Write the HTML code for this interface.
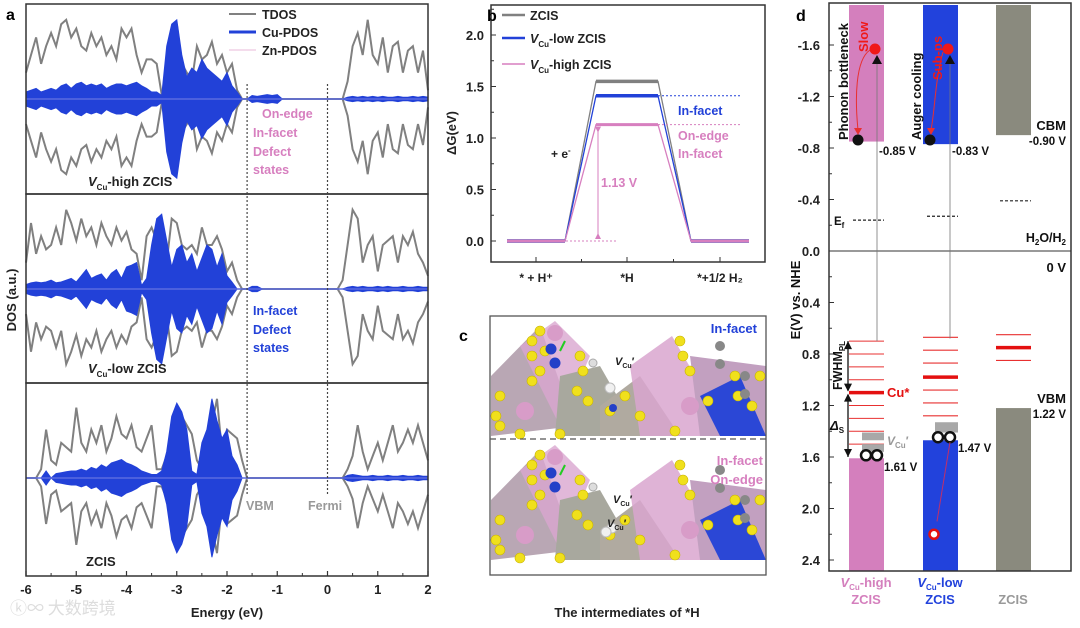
<!DOCTYPE html>
<html><head><meta charset="utf-8"><style>
html,body{margin:0;padding:0;background:#fff;}
svg{display:block;font-family:"Liberation Sans",Arial,sans-serif;font-weight:bold;}
</style></head><body>
<svg id="fig" width="1080" height="628" viewBox="0 0 1080 628" xmlns="http://www.w3.org/2000/svg">
<g id="pa"></g>
<g id="pb"></g>
<g id="pc"></g>
<g id="pd"></g>
</svg>
<script>
// ---------- Panel a data (energy grid -6..2 step 0.1) ----------
const dosEnergyStart = -6, dosEnergyStep = 0.1;
const tdosHigh = [0.3,0.5,0.7,0.4,0.6,0.75,0.6,0.85,0.9,0.7,0.8,0.6,0.55,0.75,0.6,0.7,0.5,0.6,0.45,0.8,0.7,0.8,0.5,0.3,0.45,0.45,0.4,0.05,0.2,0.6,0.85,0.4,0.3,0.2,0.6,0.45,0.5,0.65,0.4,0.5,0.3,0.4,0.1,0,0,0,0,0,0,0,0,0,0,0,0,0,0,0,0,0,0,0,0,0,0.2,0.6,0.75,0.5,0.9,0.5,0.4,0.7,0.3,0.6,0.65,0.3,0.55,0.6,0.3,0.55,0.1];
const cuHigh = [0.08,0.1,0.12,0.08,0.1,0.12,0.1,0.15,0.17,0.12,0.17,0.19,0.15,0.17,0.15,0.17,0.12,0.15,0.17,0.17,0.15,0.17,0.19,0.15,0.12,0.08,0.08,0.04,0.6,0.85,0.9,0.5,0.25,0.35,0.3,0.45,0.35,0.3,0.25,0.2,0.3,0.15,0.08,0,0,0.04,0.03,0.04,0.05,0.04,0.05,0,0,0,0,0,0,0,0,0,0,0,0,0,0.02,0.03,0.02,0.03,0.02,0.03,0.02,0.03,0.02,0.02,0.03,0.02,0.02,0.03,0.02,0.03,0.02];
const tdosLow = [0.3,0.75,0.4,0.6,0.45,0.5,0.7,0.5,0.9,0.75,0.55,0.8,0.6,0.7,0.5,0.75,0.6,0.5,0.7,0.55,0.65,0.45,0.4,0.1,0.6,0.7,0.55,0.15,0.3,0.8,0.75,0.5,0.45,0.5,0.4,0.7,0.5,0.5,0.6,0.45,0.2,0.3,0.1,0,0,0,0,0,0,0,0,0,0,0,0,0,0,0,0,0,0,0,0,0.1,0.5,0.9,0.8,0.3,0.5,0.6,0.2,0.5,0.55,0.6,0.3,0.6,0.5,0.65,0.4,0.3,0.15];
const cuLow = [0.05,0.07,0.08,0.07,0.08,0.1,0.07,0.08,0.1,0.12,0.08,0.15,0.22,0.12,0.15,0.17,0.1,0.18,0.22,0.12,0.25,0.27,0.3,0.04,0.12,0.5,0.8,0.85,0.55,0.25,0.45,0.5,0.3,0.4,0.2,0.35,0.5,0.45,0.25,0.4,0.15,0.08,0,0,0,0.03,0.03,0,0,0,0,0,0,0,0,0,0,0,0,0,0,0,0,0,0.02,0.03,0.02,0.03,0.02,0.02,0.03,0.02,0.03,0.02,0.02,0.03,0.02,0.02,0.03,0.02,0.02];
const tdosZcis = [0,0,0,0.1,0.55,0.2,0.15,0.4,0.35,0.3,0.8,0.4,0.3,0.55,0.4,0.6,0.3,0.45,0.7,0.5,0.45,0.6,0.35,0.3,0.45,0.6,0.1,0.1,0.25,0.2,0.2,0.7,0.6,0.5,0.2,0.1,0.2,0.6,0.9,0.3,0.55,0.5,0.45,0.2,0,0,0,0,0,0,0,0,0,0,0,0,0,0,0,0,0,0,0,0,0.1,0.25,0.6,0.3,0.1,0.25,0.4,0.2,0.4,0.6,0.3,0.4,0.55,0.4,0.6,0.4,0.2];
const cuZcis = [0,0,0,0,0.08,0,0.05,0.06,0.07,0.08,0.08,0.1,0.08,0.12,0.1,0.15,0.12,0.17,0.19,0.21,0.17,0.15,0.12,0.08,0.06,0.04,0.04,0.08,0.3,0.7,0.85,0.75,0.55,0.08,0.04,0.4,0.55,0.9,0.65,0.45,0.55,0.25,0.15,0,0,0,0,0,0,0,0,0,0,0,0,0,0,0,0,0,0,0,0,0,0.03,0.04,0.03,0.02,0.02,0.03,0.02,0.02,0.03,0.02,0.02,0.03,0.02,0.02,0.03,0.02,0.02];
const energyTicks = [-6,-5,-4,-3,-2,-1,0,1,2];

// ---------- Panel b data ----------
const steps = ["* + H\u207A","*H","*+1/2 H\u2082"];
const gZcis = [0,1.55,0];
const gLow = [0,1.41,0];
const gHigh = [0,1.13,0];
const gTicks = [0.0,0.5,1.0,1.5,2.0];

// ---------- Panel d data ----------
const materials = ["VCu-high","VCu-low","ZCIS"];
const cbm = [-0.85,-0.83,-0.90];
const vbm = [1.61,1.47,1.22];
const fermi = [-0.24,-0.27,-0.39];
const defectHigh = [0.70,0.80,0.90,1.00,1.10,1.20,1.30,1.40,1.50];
const defectLow = [0.67,0.77,0.87,0.98,1.08,1.18,1.28];
const defectZcis = [0.65,0.75,0.85];
const thickHigh = 1.10, thickLow = 0.98, thickZcis = 0.75;
const eTicks = [-1.6,-1.2,-0.8,-0.4,0.0,0.4,0.8,1.2,1.6,2.0,2.4];

const NS="http://www.w3.org/2000/svg";
function el(tag,attrs,parent,txt){const e=document.createElementNS(NS,tag);for(const k in attrs)e.setAttribute(k,attrs[k]);if(txt!==undefined)e.textContent=txt;parent.appendChild(e);return e;}

// ======== Panel A ========
const pa=document.getElementById('pa');
const ax0=26, ax1=428;
const xA=e=>ax0+(e+6)*(ax1-ax0)/8;
const subs=[{t:4,b:194,c:99,td:tdosHigh,cu:cuHigh,n:'vcu-high'},{t:194,b:383,c:289,td:tdosLow,cu:cuLow,n:'vcu-low'},{t:383,b:576,c:478,td:tdosZcis,cu:cuZcis,n:'zcis'}];
const amp=88;
subs.forEach(s=>{
  let up='',dn='';
  s.td.forEach((v,i)=>{const x=xA(dosEnergyStart+i*dosEnergyStep);up+=(i?'L':'M')+x.toFixed(1)+','+(s.c-v*amp).toFixed(1);dn+=(i?'L':'M')+x.toFixed(1)+','+(s.c+v*amp*0.95).toFixed(1);});
  const p1=el('path',{d:up,fill:'none',stroke:'#808080','stroke-width':2},pa);
  
  
  const p2=el('path',{d:dn,fill:'none',stroke:'#808080','stroke-width':2},pa);
  
  
  let pts=s.cu.map((v,i)=>[xA(dosEnergyStart+i*dosEnergyStep),v]);
  let d='M'+pts.map(p=>p[0].toFixed(1)+','+(s.c-p[1]*amp).toFixed(1)).join('L')+'L'+pts.slice().reverse().map(p=>p[0].toFixed(1)+','+(s.c+p[1]*amp).toFixed(1)).join('L')+'Z';
  const p3=el('path',{d:d,fill:'#2241d8',stroke:'#2241d8','stroke-width':1},pa);
  
  
  const l=el('line',{x1:ax0,x2:ax1,y1:s.c,y2:s.c,stroke:'#5a6ae0','stroke-width':1.5},pa);
  
  
  const r=el('rect',{x:ax0,y:s.t,width:ax1-ax0,height:s.b-s.t,fill:'none',stroke:'#333','stroke-width':1.5},pa);
  
  
});
[-1.6,0].forEach(e=>{const l=el('line',{x1:xA(e),x2:xA(e),y1:84,y2:495,stroke:'#444','stroke-width':1.2,'stroke-dasharray':'2,2'},pa);
  
  });
energyTicks.forEach(e=>{
  const x=xA(e);
  el('line',{x1:x,x2:x,y1:576,y2:571,stroke:'#333','stroke-width':1.2},pa);
  if(e<2){el('line',{x1:x+25.1,x2:x+25.1,y1:576,y2:573,stroke:'#333'},pa);}
  const t=el('text',{x:x,y:594,'font-size':13,'text-anchor':'middle',fill:'#222'},pa,String(e));
  
  
});
</script>
<script>
(function(){
const pa=document.getElementById('pa');
pa.insertAdjacentHTML('beforeend',`
<text x="6" y="20" font-size="16">a</text>
<g>
<line x1="229" y1="14" x2="256" y2="14" stroke="#808080" stroke-width="2"/><text x="262" y="19" font-size="12.5" fill="#222">TDOS</text>
<line x1="229" y1="32" x2="256" y2="32" stroke="#2241d8" stroke-width="3"/><text x="262" y="37" font-size="12.5" fill="#222">Cu-PDOS</text>
<line x1="229" y1="50" x2="256" y2="50" stroke="#e8b8d8" stroke-width="1"/><text x="262" y="55" font-size="12.5" fill="#222">Zn-PDOS</text></g>
<g fill="#d77fbf" font-size="12.5">
<text x="262" y="118">On-edge</text><text x="253" y="137">In-facet</text><text x="253" y="156">Defect</text><text x="253" y="174">states</text></g>
<text x="88" y="186" font-size="13" fill="#222"><tspan font-style="italic">V</tspan><tspan font-size="8" dy="4">Cu</tspan><tspan dy="-4">-high ZCIS</tspan></text>
<g fill="#2241d8" font-size="12.5">
<text x="253" y="315">In-facet</text><text x="253" y="334">Defect</text><text x="253" y="352">states</text></g>
<text x="88" y="373" font-size="13" fill="#222"><tspan font-style="italic">V</tspan><tspan font-size="8" dy="4">Cu</tspan><tspan dy="-4">-low ZCIS</tspan></text>
<text x="86" y="566" font-size="13" fill="#222">ZCIS</text>
<text x="246" y="510" font-size="12.5" fill="#999">VBM</text>
<text x="308" y="510" font-size="12.5" fill="#999">Fermi</text>
<text x="227" y="617" font-size="13" text-anchor="middle" fill="#222">Energy (eV)</text>
<text transform="translate(16,300) rotate(-90)" font-size="13" text-anchor="middle" fill="#222">DOS (a.u.)</text>
<text x="10" y="614" font-size="17" fill="#ddd" font-weight="normal" font-family="'Noto Sans CJK SC',sans-serif">ⓚ∞ 大数跨境</text>
`);
})();
</script>
<script>
(function(){
const pb=document.getElementById('pb');
const yB=v=>241-v*103;
const catX=[536,627,720];
const half=[29,31,29];
pb.insertAdjacentHTML('beforeend',`<rect x="491" y="5" width="274" height="257" fill="none" stroke="#333" stroke-width="1.5"/>
<text x="487" y="21" font-size="16">b</text>`);
gTicks.forEach(v=>{
  el('line',{x1:491,x2:496,y1:yB(v),y2:yB(v),stroke:'#333'},pb);
  el('line',{x1:491,x2:494,y1:yB(v+0.25),y2:yB(v+0.25),stroke:'#333'},pb);
  const t=el('text',{x:484,y:yB(v)+5,'font-size':13,'text-anchor':'end',fill:'#222'},pb,v.toFixed(1));
  
  
});
steps.forEach((s,i)=>{
  el('line',{x1:catX[i],x2:catX[i],y1:262,y2:257,stroke:'#333'},pb);
  if(i<2) el('line',{x1:(catX[i]+catX[i+1])/2,x2:(catX[i]+catX[i+1])/2,y1:262,y2:259,stroke:'#333'},pb);
  const t=el('text',{x:catX[i],y:282,'font-size':12,'text-anchor':'middle',fill:'#222'},pb,s);
  
  
});
function series(vals,color,w,name){
  let d='';
  vals.forEach((v,i)=>{d+=(i?'L':'M')+(catX[i]-half[i])+','+yB(v)+'L'+(catX[i]+half[i])+','+yB(v);});
  const p=el('path',{d:d,fill:'none',stroke:color,'stroke-width':1.3},pb);
  
  
  vals.forEach((v,i)=>{const l=el('line',{x1:catX[i]-half[i],x2:catX[i]+half[i],y1:yB(v),y2:yB(v),stroke:color,'stroke-width':w},pb);
    
    });
}
series(gZcis,'#808080',3.5,'zcis');
series(gLow,'#2241d8',3.5,'vcu-low');
series(gHigh,'#d77fbf',3,'vcu-high');
el('line',{x1:658,x2:740,y1:yB(gLow[1]),y2:yB(gLow[1]),stroke:'#2241d8','stroke-dasharray':'2,2'},pb);
el('line',{x1:658,x2:740,y1:yB(gHigh[1]),y2:yB(gHigh[1]),stroke:'#d77fbf','stroke-dasharray':'2,2'},pb);
el('line',{x1:566,x2:616,y1:yB(0),y2:yB(0),stroke:'#d77fbf','stroke-dasharray':'2,2'},pb);
el('line',{x1:598,x2:598,y1:yB(gHigh[1])+6,y2:yB(0)-6,stroke:'#d77fbf'},pb);
pb.insertAdjacentHTML('beforeend',`
<path d="M595,${yB(gHigh[1])+2} l3,6 l3,-6z M595,${yB(0)-2} l3,-6 l3,6z" fill="#d77fbf"/>
<g>
<line x1="502" y1="15" x2="525" y2="15" stroke="#808080" stroke-width="2.5"/><text x="530" y="20" font-size="12.5" fill="#222">ZCIS</text>
<line x1="502" y1="38" x2="525" y2="38" stroke="#2241d8" stroke-width="2.5"/><text x="530" y="43" font-size="12.5" fill="#222"><tspan font-style="italic">V</tspan><tspan font-size="8" dy="4">Cu</tspan><tspan dy="-4">-low ZCIS</tspan></text>
<line x1="502" y1="64" x2="525" y2="64" stroke="#d77fbf" stroke-width="1.5"/><text x="530" y="69" font-size="12.5" fill="#222"><tspan font-style="italic">V</tspan><tspan font-size="8" dy="4">Cu</tspan><tspan dy="-4">-high ZCIS</tspan></text></g>
<text x="678" y="115" font-size="12.5" fill="#2241d8">In-facet</text>
<text x="678" y="140" font-size="12.5" fill="#d77fbf">On-edge</text>
<text x="678" y="158" font-size="12.5" fill="#d77fbf">In-facet</text>
<text x="551" y="158" font-size="12" fill="#222">+ e<tspan font-size="8" dy="-5">-</tspan></text>
<text x="601" y="187" font-size="12.5" fill="#d77fbf">1.13 V</text>
<text transform="translate(456,133) rotate(-90)" font-size="13" text-anchor="middle" fill="#222">ΔG(eV)</text>
`);
})();
</script>
<script>
(function(){
const pc=document.getElementById('pc');
pc.insertAdjacentHTML('beforeend',`<text x="459" y="341" font-size="16">c</text>`);
function motif(oy,name){
  const g=el('g',{},pc);
  
  
  g.innerHTML=`
  <polygon points="491,${oy+60} 540,${oy+10} 575,${oy+110} 491,${oy+120}" fill="#b9a7b4"/>
  <polygon points="520,${oy+30} 555,${oy+5} 590,${oy+40} 560,${oy+110}" fill="#d9a6cf" opacity="0.8"/>
  <polygon points="560,${oy+60} 600,${oy+50} 640,${oy+120} 555,${oy+120}" fill="#a8a89e"/>
  <polygon points="600,${oy+90} 640,${oy+60} 680,${oy+120} 600,${oy+120}" fill="#b0aaa0"/>
  <polygon points="630,${oy+50} 672,${oy+20} 730,${oy+120} 640,${oy+120}" fill="#d9a6cf" opacity="0.85"/>
  <polygon points="690,${oy+40} 766,${oy+50} 766,${oy+120} 700,${oy+120}" fill="#c2a0c0"/>
  <polygon points="700,${oy+80} 740,${oy+60} 766,${oy+120} 720,${oy+120}" fill="#2b47d6"/>
  <circle cx="555" cy="${oy+17}" r="8" fill="#d89cc8"/>
  <circle cx="525" cy="${oy+95}" r="9" fill="#d89cc8"/>
  <circle cx="690" cy="${oy+90}" r="9" fill="#d89cc8"/>
  <circle cx="593" cy="${oy+47}" r="4" fill="#ddd" stroke="#aaa"/>
  ${[[540,oy+15],[532,oy+25],[532,oy+40],[545,oy+35],[540,oy+55],[532,oy+65],[500,oy+80],[496,oy+100],[500,oy+110],[580,oy+40],[583,oy+55],[577,oy+75],[588,oy+85],[610,oy+95],[625,oy+80],[640,oy+100],[680,oy+25],[683,oy+40],[690,oy+55],[708,oy+85],[760,oy+60],[735,oy+60],[738,oy+80],[752,oy+90],[675,oy+115],[520,oy+118],[560,oy+118]].map(p=>`<circle cx="${p[0]}" cy="${p[1]}" r="5" fill="#f0e01c" stroke="#c8b400" stroke-width="0.6"/>`).join('')}
  ${[[720,oy+30],[720,oy+48],[745,oy+60],[745,oy+78]].map(p=>`<circle cx="${p[0]}" cy="${p[1]}" r="5" fill="#888"/>`).join('')}
  <circle cx="551" cy="${oy+33}" r="5.5" fill="#2340c8"/><circle cx="555" cy="${oy+47}" r="5.5" fill="#2340c8"/>
  <line x1="560" y1="${oy+35}" x2="565" y2="${oy+25}" stroke="#2c2" stroke-width="2"/>`;
}
motif(316,'structure-in-facet');
motif(440,'structure-on-edge');
pc.insertAdjacentHTML('beforeend',`
<circle cx="610" cy="${316+72}" r="5" fill="#f0f0f0" stroke="#bbb"/>
<circle cx="613" cy="${316+92}" r="4" fill="#2340c8"/>
<circle cx="612" cy="${440+88}" r="5" fill="#f0f0f0" stroke="#bbb"/>
<circle cx="606" cy="${440+92}" r="5" fill="#f0f0f0" stroke="#bbb"/>
<rect x="490" y="316" width="276" height="259" fill="none" stroke="#555" stroke-width="1.3"/>
<line x1="490" y1="439" x2="766" y2="439" stroke="#555" stroke-width="1.3" stroke-dasharray="6,4"/>
<rect x="700" y="318" width="64" height="22" fill="#fff" opacity="0.85"/>
<text x="757" y="333" font-size="13" fill="#2241d8" text-anchor="end">In-facet</text>
<text x="763" y="465" font-size="13" fill="#d77fbf" text-anchor="end">In-facet</text>
<text x="763" y="484" font-size="13" fill="#d77fbf" text-anchor="end">On-edge</text>
<text x="615" y="365" font-size="11" fill="#222"><tspan font-style="italic">V</tspan><tspan font-size="7" dy="3">Cu</tspan><tspan dy="-3">′</tspan></text>
<text x="613" y="503" font-size="11" fill="#222"><tspan font-style="italic">V</tspan><tspan font-size="7" dy="3">Cu</tspan><tspan dy="-3">′</tspan></text>
<text x="607" y="527" font-size="11" fill="#222"><tspan font-style="italic">V</tspan><tspan font-size="7" dy="3">Cu</tspan><tspan dy="-3">′</tspan></text>
<text x="627" y="617" font-size="13" text-anchor="middle" fill="#222">The intermediates of *H</text>
`);
})();
</script>
<script>
(function(){
const pd=document.getElementById('pd');
const yD=v=>251+v*128.75;
const top=5, bot=571, L=829, R=1071;
const barX=[849,923,996], barW=35;
const cols=['#d47fbd','#2242dc','#8a8a7e'];
pd.insertAdjacentHTML('beforeend',`<text x="796" y="21" font-size="16">d</text>`);
materials.forEach((m,i)=>{
  const r1=el('rect',{x:barX[i],y:top,width:barW,height:yD(cbm[i])-top,fill:cols[i]},pd);
  
  
  const r2=el('rect',{x:barX[i],y:yD(vbm[i]),width:barW,height:bot-yD(vbm[i]),fill:cols[i]},pd);
  
  
  const f=el('line',{x1:barX[i]+4,x2:barX[i]+barW,y1:yD(fermi[i]),y2:yD(fermi[i]),stroke:'#222','stroke-width':1.2,'stroke-dasharray':'3,2'},pd);
  
  
});
[[defectHigh,thickHigh,0],[defectLow,thickLow,1],[defectZcis,thickZcis,2]].forEach(([arr,th,i])=>{
  arr.forEach(v=>{const l=el('line',{x1:barX[i],x2:barX[i]+barW,y1:yD(v),y2:yD(v),stroke:'#e83030','stroke-width':1.1},pd);
    
    });
  const l=el('line',{x1:barX[i],x2:barX[i]+barW,y1:yD(th),y2:yD(th),stroke:'#e41010','stroke-width':3.5},pd);
  
  
});
el('line',{x1:L,x2:R,y1:yD(0),y2:yD(0),stroke:'#333','stroke-width':1},pd);
eTicks.forEach((v,k)=>{
  el('line',{x1:L,x2:L+5,y1:yD(v),y2:yD(v),stroke:'#333'},pd);
  if(k<eTicks.length-1) el('line',{x1:L,x2:L+3,y1:yD(v+0.2),y2:yD(v+0.2),stroke:'#333'},pd);
  const t=el('text',{x:820,y:yD(v)+5,'font-size':13,'text-anchor':'end',fill:'#222'},pd,v.toFixed(1));
  
  
});
el('rect',{x:L,y:3,width:R-L,height:bot-3,fill:'none',stroke:'#333','stroke-width':1.5},pd);
pd.insertAdjacentHTML('beforeend',`
<line x1="877" y1="62" x2="877" y2="${yD(0.7)}" stroke="#777" stroke-width="0.8"/>
<line x1="950" y1="62" x2="950" y2="${yD(0.68)}" stroke="#777" stroke-width="0.8"/>
<path d="M872,64 l5,-9 l5,9z M945,64 l5,-9 l5,9z" fill="#111"/>
<circle cx="875" cy="49" r="5.5" fill="#f01818"/>
<circle cx="948" cy="49" r="5.5" fill="#f01818"/>
<path d="M870,50 C855,60 855,100 858,130" fill="none" stroke="#e83030" stroke-width="1"/>
<path d="M943,52 C935,80 935,110 931,130" fill="none" stroke="#e83030" stroke-width="1"/>
<path d="M854,128 l4,7 l4,-7z M927,128 l4,7 l4,-7z" fill="#e83030"/>
<circle cx="858" cy="140" r="5.5" fill="#111"/>
<circle cx="930" cy="140" r="5.5" fill="#111"/>
<text transform="translate(848,140) rotate(-90)" font-size="13" fill="#111">Phonon bottleneck</text>
<text transform="translate(868,52) rotate(-90)" font-size="13" fill="#f01818">Slow</text>
<text transform="translate(921,140) rotate(-90)" font-size="13" fill="#111">Auger cooling</text>
<text transform="translate(942,80) rotate(-90)" font-size="13" fill="#f01818">Sub-ps</text>
<text x="879" y="155" font-size="11.5" fill="#111">-0.85 V</text>
<text x="952" y="155" font-size="11.5" fill="#111">-0.83 V</text>
<text x="1066" y="130" font-size="13" text-anchor="end" fill="#111">CBM</text>
<text x="1066" y="145" font-size="11.5" text-anchor="end" fill="#111">-0.90 V</text>
<text x="1066" y="403" font-size="13" text-anchor="end" fill="#111">VBM</text>
<text x="1066" y="418" font-size="11.5" text-anchor="end" fill="#111">1.22 V</text>
<text x="1066" y="242" font-size="12.5" text-anchor="end" fill="#111">H<tspan font-size="8" dy="3">2</tspan><tspan dy="-3">O/H</tspan><tspan font-size="8" dy="3">2</tspan></text>
<text x="1066" y="272" font-size="13" text-anchor="end" fill="#111">0 V</text>
<text x="834" y="225" font-size="11.5" fill="#111">E<tspan font-size="8" dy="3">f</tspan></text>
<line x1="848" y1="${yD(0.7)}" x2="848" y2="${yD(1.1)-2}" stroke="#111" stroke-width="1.3"/>
<line x1="848" y1="${yD(1.1)+2}" x2="848" y2="${yD(1.6)}" stroke="#111" stroke-width="1.3"/>
<path d="M844,${yD(0.7)+8} l4,-8 l4,8z M844,${yD(1.1)-9} l4,8 l4,-8z M844,${yD(1.1)+9} l4,-8 l4,8z M844,${yD(1.6)-8} l4,8 l4,-8z" fill="#111"/>
<text transform="translate(842,${yD(1.08)}) rotate(-90)" font-size="12.5" fill="#111">FWHM<tspan font-size="8" dy="3">PL</tspan></text>
<text x="830" y="430" font-size="13" fill="#111" font-style="italic">Δ<tspan font-size="8" dy="3" font-style="normal">S</tspan></text>
<text x="887" y="397" font-size="13" fill="#e41010">Cu*</text>
<rect x="862" y="${yD(1.41)}" width="22" height="${yD(1.47)-yD(1.41)}" fill="#a8a8a8"/>
<rect x="862" y="${yD(1.50)}" width="22" height="${yD(1.56)-yD(1.50)}" fill="#a8a8a8"/>
<rect x="935" y="${yD(1.33)}" width="23" height="${yD(1.41)-yD(1.33)}" fill="#a8a8a8"/>
<text x="887" y="445" font-size="12" fill="#999"><tspan font-style="italic">V</tspan><tspan font-size="8" dy="3">Cu</tspan><tspan dy="-3">′</tspan></text>
<circle cx="866" cy="${yD(1.61)-3}" r="5" fill="#fff" stroke="#111" stroke-width="2.5"/>
<circle cx="877" cy="${yD(1.61)-3}" r="5" fill="#fff" stroke="#111" stroke-width="2.5"/>
<circle cx="938" cy="${yD(1.47)-3}" r="5" fill="#fff" stroke="#111" stroke-width="2.5"/>
<circle cx="950" cy="${yD(1.47)-3}" r="5" fill="#fff" stroke="#111" stroke-width="2.5"/>
<text x="884" y="471" font-size="11.5" fill="#111">1.61 V</text>
<text x="958" y="452" font-size="11.5" fill="#111">1.47 V</text>
<line x1="950" y1="${yD(1.47)+2}" x2="937" y2="${yD(2.1)}" stroke="#c0306a" stroke-width="1"/>
<circle cx="934" cy="${yD(2.2)}" r="4.5" fill="#fff" stroke="#e41010" stroke-width="2.5"/>
<text x="866" y="587" font-size="13" text-anchor="middle" fill="#d47fbd"><tspan font-style="italic">V</tspan><tspan font-size="8" dy="3">Cu</tspan><tspan dy="-3">-high</tspan></text>
<text x="866" y="604" font-size="13" text-anchor="middle" fill="#d47fbd">ZCIS</text>
<text x="940" y="587" font-size="13" text-anchor="middle" fill="#2242dc"><tspan font-style="italic">V</tspan><tspan font-size="8" dy="3">Cu</tspan><tspan dy="-3">-low</tspan></text>
<text x="940" y="604" font-size="13" text-anchor="middle" fill="#2242dc">ZCIS</text>
<text x="1013" y="604" font-size="13" text-anchor="middle" fill="#999">ZCIS</text>
<text transform="translate(800,300) rotate(-90)" font-size="13" text-anchor="middle" fill="#111">E(V) vs. NHE</text>
`);
})();
</script>
</body></html>
